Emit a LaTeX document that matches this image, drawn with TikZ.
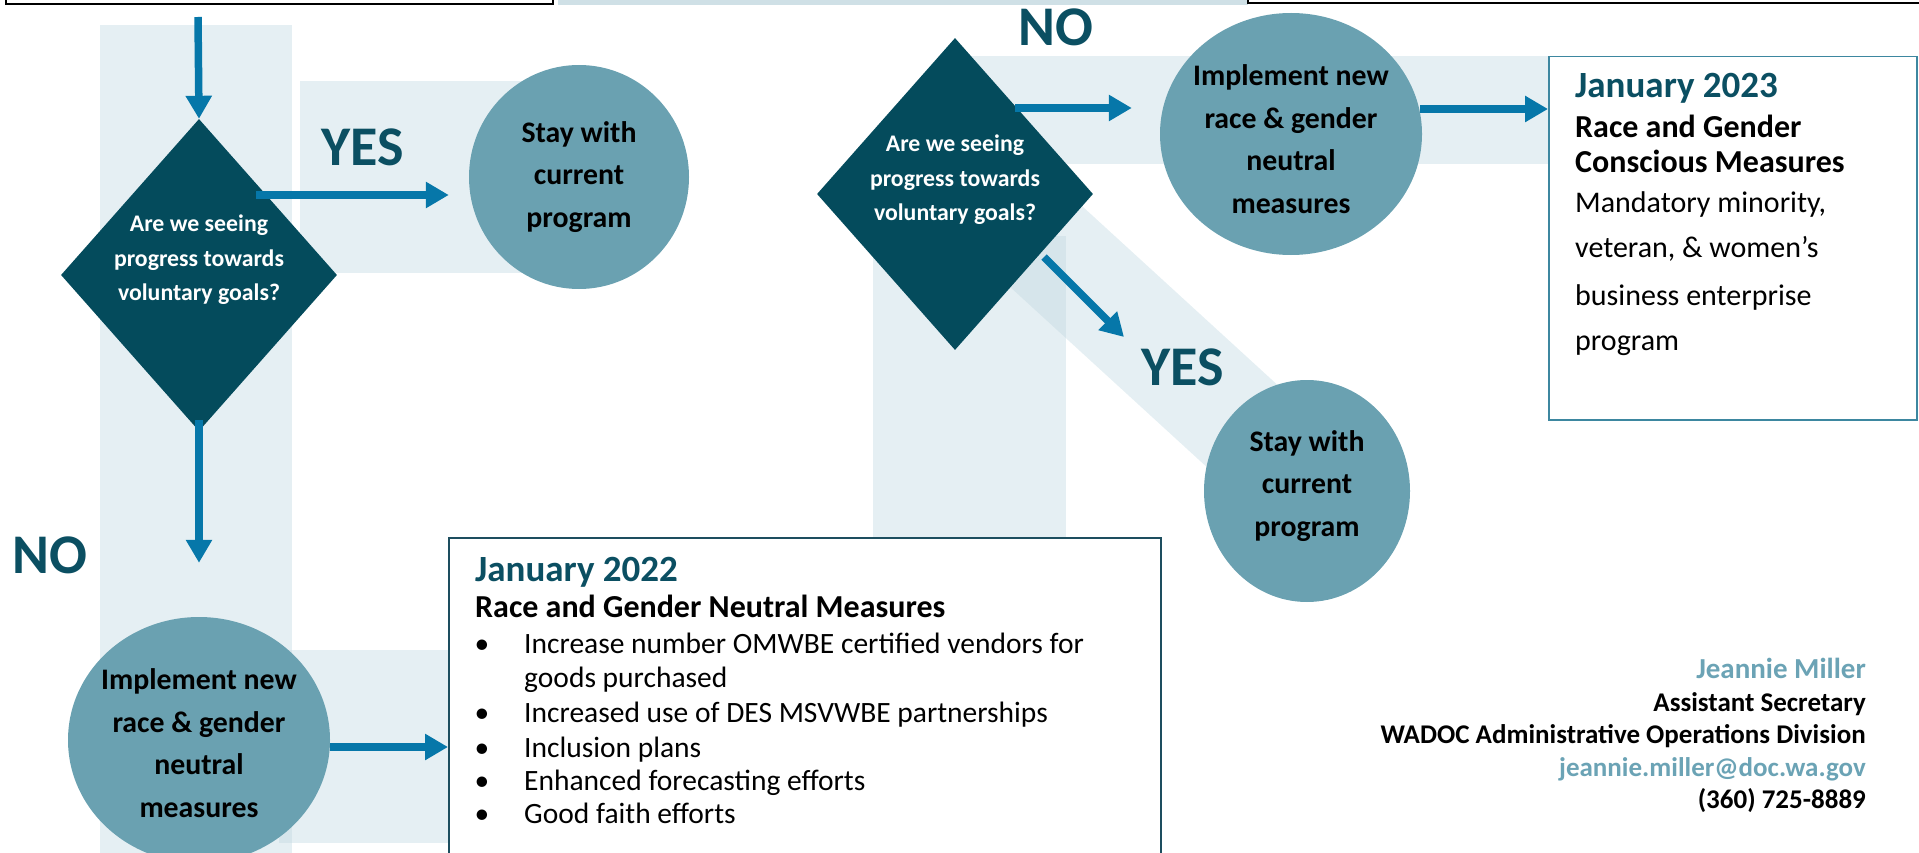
\documentclass[tikz,border=0pt]{standalone}
\usepackage{fontspec}
\setmainfont{Carlito}
\usetikzlibrary{shapes.geometric,arrows.meta,calc}
\definecolor{diac}{HTML}{044B5C}
\definecolor{titc}{HTML}{0B4F62}
\definecolor{circc}{HTML}{6AA1B1}
\definecolor{arrc}{HTML}{0677A9}
\definecolor{bandc}{HTML}{BFD7E0}
\definecolor{stripc}{HTML}{CFE0E6}
\definecolor{boxa}{HTML}{1D4E5F}
\definecolor{boxb}{HTML}{3D87A0}
\definecolor{sigc}{HTML}{6BA3B5}
\tikzset{
  band/.style={fill=bandc, fill opacity=0.4, draw=none},
  arr/.style={draw=arrc, line width=7.5pt, -{Triangle[length=23pt,width=25pt]}},
  dia/.style={diamond, fill=diac, minimum width=276pt, minimum height=312pt, inner sep=0pt},
  dtext/.style={text=white, align=center, inner sep=0pt, font=\fontsize{23.8pt}{34.5pt}\selectfont\bfseries},
  circ/.style={ellipse, fill=circc, inner sep=0pt},
  ctext/.style={text=black, align=center, inner sep=0pt, font=\fontsize{29.8pt}{42.5pt}\selectfont\bfseries},
  yn/.style={text=titc, inner sep=0pt, anchor=base west, font=\fontsize{56pt}{60pt}\selectfont\bfseries},
  ttl/.style={text=titc, inner sep=0pt, anchor=base west, font=\fontsize{37pt}{40pt}\selectfont\bfseries},
  hd/.style={text=black, inner sep=0pt, anchor=base west, font=\fontsize{32pt}{34pt}\selectfont\bfseries},
  itm/.style={text=black, inner sep=0pt, anchor=base west, font=\fontsize{29.5pt}{34pt}\selectfont},
  bul/.style={text=black, inner sep=0pt, anchor=base, font=\fontsize{29.5pt}{34pt}\selectfont},
  rtx/.style={text=black, inner sep=0pt, anchor=base west, font=\fontsize{30pt}{46pt}\selectfont},
  sig/.style={text=black, inner sep=0pt, anchor=base east, font=\fontsize{27pt}{32pt}\selectfont\bfseries},
}
\begin{document}
\begin{tikzpicture}[x=1pt,y=-1pt]
\useasboundingbox (0,0) rectangle (1919,853);
\clip (0,0) rectangle (1919,853);
% background bands
\fill[band] (100,25) rectangle (292,853);
\fill[band] (300,81) rectangle (560,273);
\fill[band] (279,650) rectangle (449,843);
\fill[band] (873,236) rectangle (1066,537);
\fill[band] (960,56) rectangle (1548,164);
\fill[band] (1000,131) -- (1330,433) -- (1257,513) -- (927,211) -- cycle;
% top strip (cut-off content)
\draw[black, line width=2pt, fill=white] (6,-20) rectangle (553,4);
\fill[stripc] (558,-2) rectangle (1248,5);
\draw[black, line width=1.5pt] (1248,-20) rectangle (1930,3);
% shapes
\node[dia, label={[dtext,yshift=15pt]center:Are we seeing\\progress towards\\voluntary goals?}] (d1) at (199,275) {};
\node[dia, label={[dtext,yshift=14pt]center:Are we seeing\\progress towards\\voluntary goals?}] (d2) at (955,194) {};
\node[circ, minimum width=220pt, minimum height=224pt, label={[ctext]center:Stay with\\current\\program}] (s1) at (579,177) {};
\node[circ, minimum width=262pt, minimum height=246pt, label={[ctext,yshift=-3pt]center:Implement new\\race \& gender\\neutral\\measures}] (i1) at (199,740) {};
\node[circ, minimum width=262pt, minimum height=242pt, label={[ctext,yshift=-5pt]center:Implement new\\race \& gender\\neutral\\measures}] (i2) at (1291,134) {};
\node[circ, minimum width=206pt, minimum height=222pt, label={[ctext,yshift=5pt]center:Stay with\\current\\program}] (s2) at (1307,491) {};
\node[draw=boxa, line width=1.5pt, fill=white, minimum width=712pt, minimum height=340pt, anchor=north west, inner sep=0pt] (b22) at (448,537) {};
\node[draw=boxb, line width=1.5pt, fill=white, minimum width=368pt, minimum height=363pt, anchor=north west, inner sep=0pt] (b23) at (1548,56) {};
% connectors
\coordinate (top) at (198,17);
\draw[arr] (top) -- (d1.north);
\draw[arr] ($(d1)+(57,-80)$) -- ($(s1.west)+(-20,18)$);
\draw[arr] ($(d1.south)+(0,-11)$) -- ($(i1.north)+(0,-54)$);
\draw[arr] ($(i1.east)+(0,7)$) -- ($(b22.north west)+(0,210)$);
\draw[arr] ($(d2)+(60,-86)$) -- ($(i2.west)+(-28,-26)$);
\draw[arr] ($(i2.east)+(-2,-25)$) -- ($(b23.north west)+(0,53)$);
\draw[arr] ($(d2)+(89,63)$) -- ($(s2)+(-183,-154)$);
% labels
\node[yn] (yes1) at (321,166) {YES};
\node[yn] (no1) at (12,573) {NO};
\node[yn] (no2) at (1018,46) {NO};
\node[yn] (yes2) at (1141,385) {YES};
% box 2022 text
\node[ttl] (t22a) at (475,581) {January 2022};
\node[hd] (t22b) at (475,617) {Race and Gender Neutral Measures};
\node[bul] (bl1) at (482,653) {•};
\node[itm] (it1) at (524,653) {Increase number OMWBE certified vendors for};
\node[itm] (it1b) at (524,687) {goods purchased};
\node[bul] (bl2) at (482,722) {•};
\node[itm] (it2) at (524,722) {Increased use of DES MSVWBE partnerships};
\node[bul] (bl3) at (482,757) {•};
\node[itm] (it3) at (524,757) {Inclusion plans};
\node[bul] (bl4) at (482,790) {•};
\node[itm] (it4) at (524,790) {Enhanced forecasting efforts};
\node[bul] (bl5) at (482,823) {•};
\node[itm] (it5) at (524,823) {Good faith efforts};
% box 2023 text
\node[ttl] (t23a) at (1575,98) {January 2023};
\node[hd] (t23b) at (1575,138) {Race and Gender};
\node[hd] (t23c) at (1575,173) {Conscious Measures};
\node[rtx] (t23d) at (1575,212) {Mandatory minority,};
\node[rtx] (t23e) at (1575,258) {veteran, \& women’s};
\node[rtx] (t23f) at (1575,305) {business enterprise};
\node[rtx] (t23g) at (1575,350) {program};
% signature
\node[sig, text=sigc, font=\fontsize{29pt}{32pt}\selectfont\bfseries] (sg1) at (1866,678) {Jeannie Miller};
\node[sig] (sg2) at (1866,711) {Assistant Secretary};
\node[sig] (sg3) at (1866,743) {WADOC Administrative Operations Division};
\node[sig, text=sigc] (sg4) at (1866,776) {jeannie.miller@doc.wa.gov};
\node[sig] (sg5) at (1866,808) {(360) 725-8889};
\end{tikzpicture}
\end{document}
